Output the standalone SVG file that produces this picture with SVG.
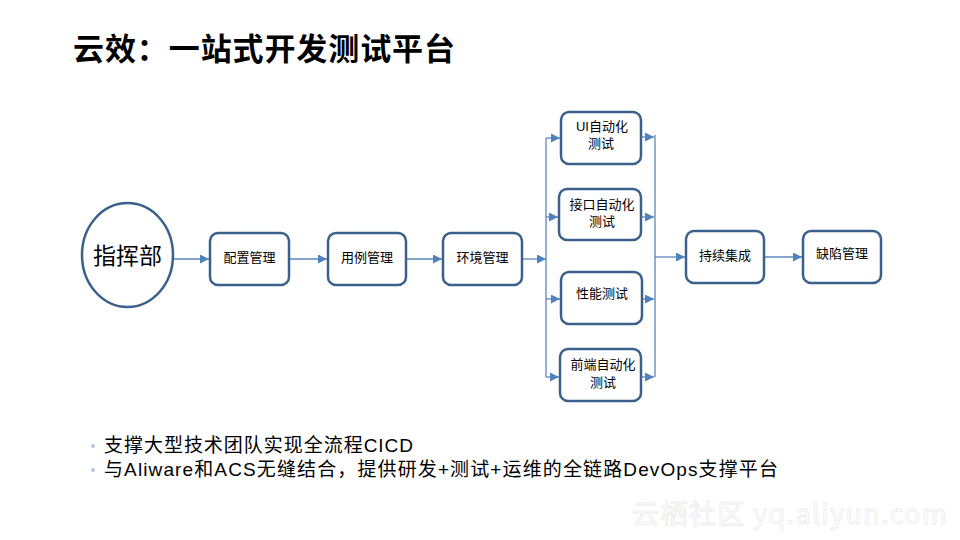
<svg xmlns="http://www.w3.org/2000/svg" width="960" height="540" viewBox="0 0 960 540">
<defs>
<marker id="ah" viewBox="0 0 10 10" refX="10" refY="5" markerWidth="9" markerHeight="9" markerUnits="userSpaceOnUse" orient="auto">
<path d="M0,0 L10,5 L0,10 z" fill="#4f81bd"/>
</marker>
</defs>
<style>
.n{fill:#fff;stroke:#3c608c;stroke-width:2.5}
.t{font-family:"Liberation Sans","Noto Sans CJK SC",sans-serif;font-size:13px;fill:#000;text-anchor:middle}
.c{stroke:#5b86bf;stroke-width:1.3;fill:none}
.a{stroke:#5b86bf;stroke-width:1.3;fill:none;marker-end:url(#ah)}
.b{font-family:"Liberation Sans","Noto Sans CJK SC",sans-serif;font-size:19px;fill:#000}
</style>
<rect width="960" height="540" fill="#fff"/>
<text x="73" y="60" font-family="'Noto Sans CJK SC',sans-serif" font-size="31" font-weight="bold" fill="#000" textLength="382">云效：一站式开发测试平台</text>
<g id="connectors">
<line class="a" x1="173" y1="259" x2="209" y2="259"/>
<line class="a" x1="289" y1="259" x2="327" y2="259"/>
<line class="a" x1="406" y1="259" x2="442" y2="259"/>
<line class="a" x1="522" y1="259" x2="546" y2="259"/>
<line class="c" x1="546" y1="138" x2="546" y2="377"/>
<line class="a" x1="546" y1="138" x2="560" y2="138"/>
<line class="a" x1="546" y1="217" x2="558" y2="217"/>
<line class="a" x1="546" y1="299" x2="560" y2="299"/>
<line class="a" x1="546" y1="377" x2="559" y2="377"/>
<line class="c" x1="655" y1="135" x2="655" y2="377"/>
<line class="a" x1="641" y1="137" x2="654" y2="137"/>
<line class="a" x1="641" y1="217" x2="654" y2="217"/>
<line class="a" x1="642" y1="299" x2="654" y2="299"/>
<line class="a" x1="641" y1="377" x2="654" y2="377"/>
<line class="a" x1="655" y1="257" x2="685" y2="257"/>
<line class="a" x1="764" y1="257" x2="802" y2="257"/>
</g>
<g id="n-zhihuibu"><ellipse class="n" cx="127.5" cy="255" rx="45.5" ry="52"/><text x="127.5" y="264" font-family="'Noto Sans CJK SC',sans-serif" font-size="23" text-anchor="middle">指挥部</text></g>
<g id="n-peizhi"><rect class="n" x="210" y="233" width="79" height="52" rx="8"/><text class="t" x="249.5" y="262">配置管理</text></g>
<g id="n-yongli"><rect class="n" x="328" y="233" width="78" height="52" rx="8"/><text class="t" x="367" y="262">用例管理</text></g>
<g id="n-huanjing"><rect class="n" x="443" y="233" width="79" height="52" rx="8"/><text class="t" x="482.5" y="262">环境管理</text></g>
<g id="n-ui"><rect class="n" x="561" y="112" width="80" height="52" rx="8"/><text class="t" x="602" y="131">UI自动化</text><text class="t" x="601" y="148">测试</text></g>
<g id="n-jiekou"><rect class="n" x="559" y="189" width="82" height="51" rx="8"/><text class="t" x="602" y="209">接口自动化</text><text class="t" x="602" y="226">测试</text></g>
<g id="n-xingneng"><rect class="n" x="561" y="272" width="81" height="52" rx="8"/><text class="t" x="602" y="298">性能测试</text></g>
<g id="n-qianduan"><rect class="n" x="560" y="349" width="81" height="52" rx="8"/><text class="t" x="603" y="369">前端自动化</text><text class="t" x="603" y="387">测试</text></g>
<g id="n-chixu"><rect class="n" x="686" y="231" width="78" height="52" rx="8"/><text class="t" x="725" y="260">持续集成</text></g>
<g id="n-quexian"><rect class="n" x="803" y="231" width="78" height="52" rx="8"/><text class="t" x="842" y="258">缺陷管理</text></g>
<circle cx="93" cy="446" r="2" fill="#b8c8d8"/>
<circle cx="93" cy="470" r="2" fill="#b8c8d8"/>
<text class="b" x="104" y="452" textLength="309">支撑大型技术团队实现全流程CICD</text>
<text class="b" x="104" y="476" textLength="674">与Aliware和ACS无缝结合，提供研发+测试+运维的全链路DevOps支撑平台</text>
<text x="632" y="524" font-family="'Noto Sans CJK SC',sans-serif" font-size="27" fill="#fff" stroke="#ebebeb" stroke-width="0.8" textLength="315">云栖社区 yq.aliyun.com</text>
</svg>
